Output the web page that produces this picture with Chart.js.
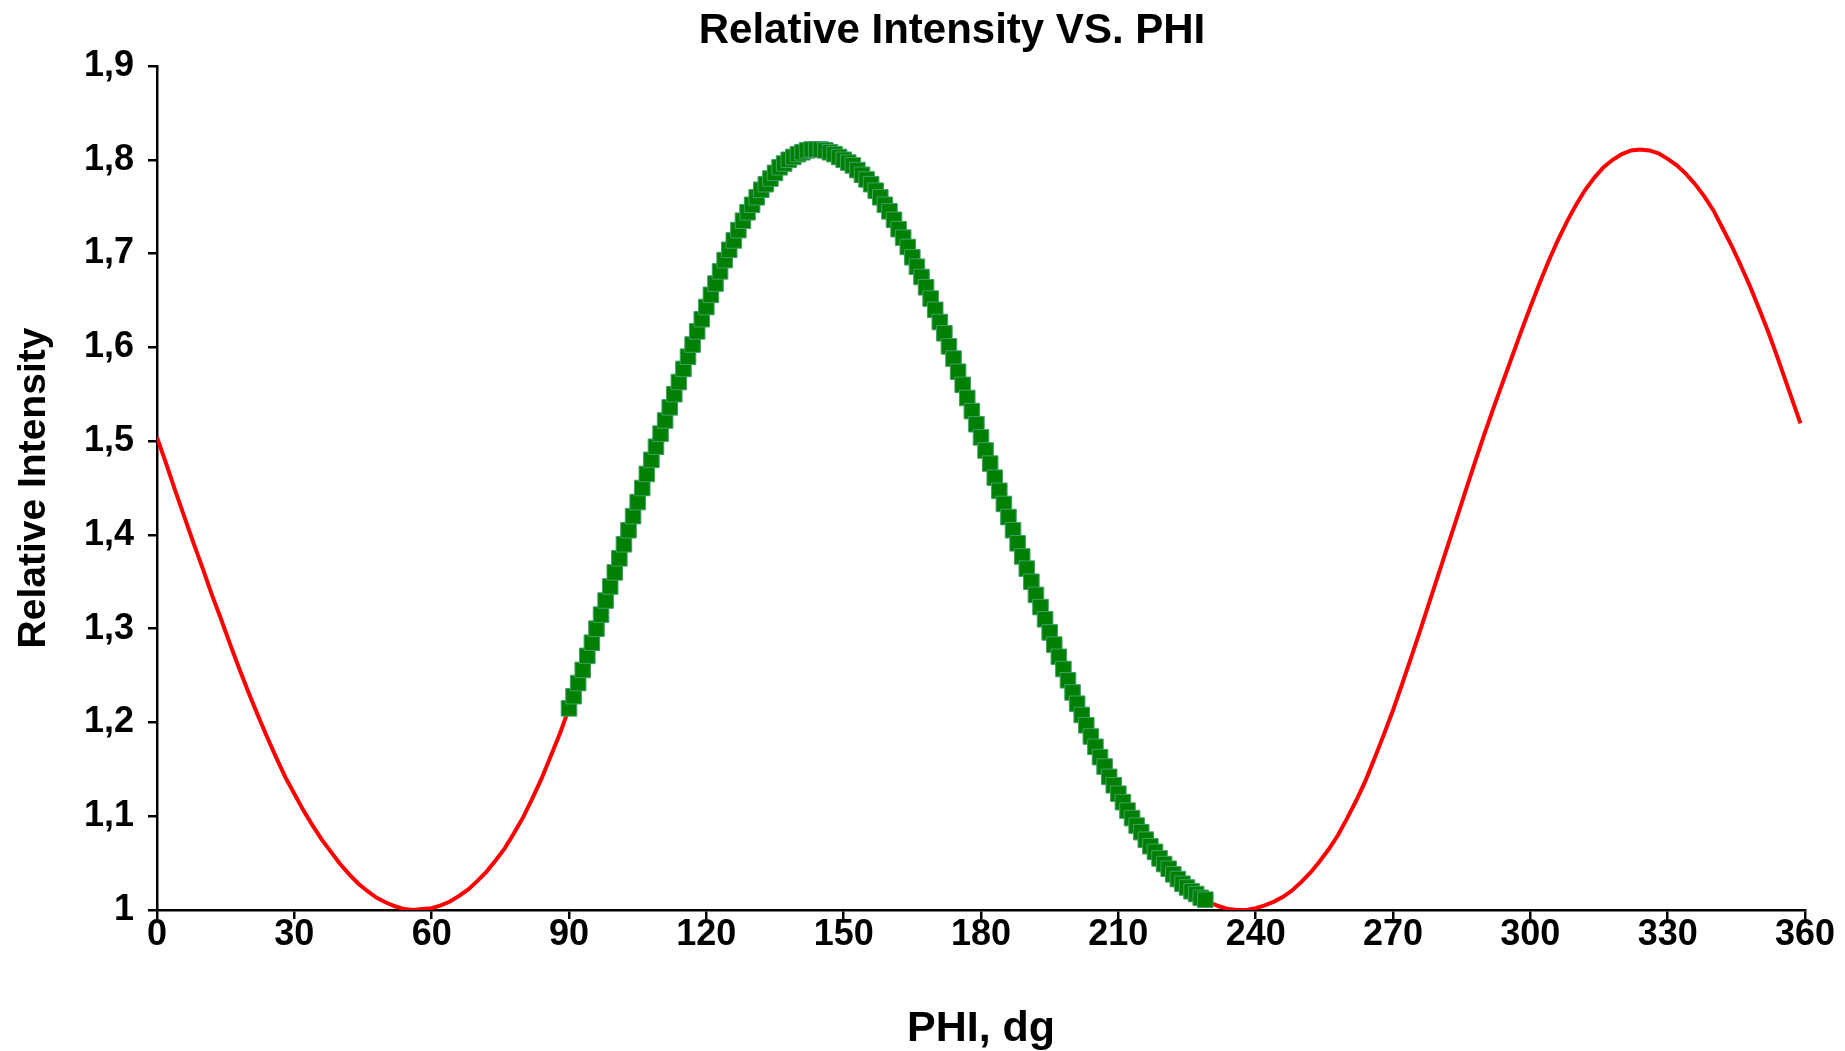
<!DOCTYPE html>
<html>
<head>
<meta charset="utf-8">
<title>Relative Intensity VS. PHI</title>
<script src="https://cdn.jsdelivr.net/npm/chart.js@4.4.1/dist/chart.umd.min.js"></script>
<style>
  html, body { margin: 0; padding: 0; background: #fff; }
  #wrap { width: 1845px; height: 1051px; }
</style>
</head>
<body>
<div id="wrap"><canvas id="phi_chart" width="1845" height="1051"></canvas></div>
<script>
// values
const chartTitle = "Relative Intensity VS. PHI";
const xTitle = "PHI, dg";
const yTitle = "Relative Intensity";

const xTicks = [0, 30, 60, 90, 120, 150, 180, 210, 240, 270, 300, 330, 360];
const yTicks = [1, 1.1, 1.2, 1.3, 1.4, 1.5, 1.6, 1.7, 1.8, 1.9];

// red line, every 2 dg
const phiRed = [
  0, 2, 4, 6, 8, 10, 12, 14, 16, 18, 20, 22, 24, 26, 28, 30, 32, 34, 36, 38,
  40, 42, 44, 46, 48, 50, 52, 54, 56, 58, 60, 62, 64, 66, 68, 70, 72, 74, 76, 78,
  80, 82, 84, 86, 88, 90, 92, 94, 96, 98, 100, 102, 104, 106, 108, 110, 112, 114, 116, 118,
  120, 122, 124, 126, 128, 130, 132, 134, 136, 138, 140, 142, 144, 146, 148, 150, 152, 154, 156, 158,
  160, 162, 164, 166, 168, 170, 172, 174, 176, 178, 180, 182, 184, 186, 188, 190, 192, 194, 196, 198,
  200, 202, 204, 206, 208, 210, 212, 214, 216, 218, 220, 222, 224, 226, 228, 230, 232, 234, 236, 238,
  240, 242, 244, 246, 248, 250, 252, 254, 256, 258, 260, 262, 264, 266, 268, 270, 272, 274, 276, 278,
  280, 282, 284, 286, 288, 290, 292, 294, 296, 298, 300, 302, 304, 306, 308, 310, 312, 314, 316, 318,
  320, 322, 324, 326, 328, 330, 332, 334, 336, 338, 340, 342, 344, 346, 348, 350, 352, 354, 356, 358,
  359
];
const intensityRed = [
  1.504, 1.476, 1.447, 1.419, 1.391, 1.364, 1.336, 1.310, 1.283, 1.257,
  1.232, 1.208, 1.185, 1.163, 1.142, 1.124, 1.106, 1.090, 1.075, 1.062,
  1.049, 1.038, 1.028, 1.020, 1.013, 1.008, 1.004, 1.001, 1.000, 1.001,
  1.002, 1.005, 1.009, 1.015, 1.022, 1.031, 1.041, 1.053, 1.066, 1.082,
  1.099, 1.119, 1.140, 1.164, 1.188, 1.215, 1.242, 1.271, 1.300, 1.330,
  1.360, 1.390, 1.420, 1.450, 1.480, 1.508, 1.536, 1.563, 1.590, 1.617,
  1.643, 1.668, 1.693, 1.714, 1.735, 1.752, 1.768, 1.780, 1.792, 1.800,
  1.806, 1.810, 1.811, 1.810, 1.806, 1.800, 1.794, 1.784, 1.774, 1.760,
  1.745, 1.726, 1.707, 1.686, 1.664, 1.640, 1.615, 1.588, 1.560, 1.532,
  1.505, 1.477, 1.448, 1.420, 1.392, 1.364, 1.337, 1.310, 1.284, 1.258,
  1.233, 1.209, 1.186, 1.164, 1.143, 1.124, 1.106, 1.090, 1.076, 1.063,
  1.050, 1.039, 1.029, 1.020, 1.013, 1.008, 1.004, 1.001, 1.000, 1.000,
  1.002, 1.005, 1.009, 1.014, 1.021, 1.030, 1.040, 1.052, 1.065, 1.080,
  1.098, 1.117, 1.138, 1.162, 1.187, 1.213, 1.241, 1.270, 1.299, 1.329,
  1.359, 1.389, 1.419, 1.449, 1.479, 1.508, 1.536, 1.563, 1.590, 1.617,
  1.643, 1.668, 1.692, 1.714, 1.734, 1.752, 1.768, 1.781, 1.792, 1.800,
  1.806, 1.810, 1.811, 1.810, 1.807, 1.801, 1.794, 1.785, 1.774, 1.761,
  1.746, 1.727, 1.708, 1.687, 1.665, 1.641, 1.616, 1.589, 1.561, 1.533,
  1.519
];

// green squares, every 1 dg from 90 to 229
const phiGreen = [
  90, 91, 92, 93, 94, 95, 96, 97, 98, 99,
  100, 101, 102, 103, 104, 105, 106, 107, 108, 109,
  110, 111, 112, 113, 114, 115, 116, 117, 118, 119,
  120, 121, 122, 123, 124, 125, 126, 127, 128, 129,
  130, 131, 132, 133, 134, 135, 136, 137, 138, 139,
  140, 141, 142, 143, 144, 145, 146, 147, 148, 149,
  150, 151, 152, 153, 154, 155, 156, 157, 158, 159,
  160, 161, 162, 163, 164, 165, 166, 167, 168, 169,
  170, 171, 172, 173, 174, 175, 176, 177, 178, 179,
  180, 181, 182, 183, 184, 185, 186, 187, 188, 189,
  190, 191, 192, 193, 194, 195, 196, 197, 198, 199,
  200, 201, 202, 203, 204, 205, 206, 207, 208, 209,
  210, 211, 212, 213, 214, 215, 216, 217, 218, 219,
  220, 221, 222, 223, 224, 225, 226, 227, 228, 229
];
const intensityGreen = [
  1.215, 1.228, 1.242, 1.256, 1.271, 1.285, 1.300, 1.315, 1.330, 1.345,
  1.360, 1.375, 1.390, 1.405, 1.420, 1.435, 1.450, 1.465, 1.480, 1.494,
  1.508, 1.522, 1.536, 1.550, 1.563, 1.577, 1.590, 1.603, 1.617, 1.630,
  1.643, 1.656, 1.668, 1.681, 1.693, 1.704, 1.714, 1.725, 1.735, 1.744,
  1.752, 1.760, 1.768, 1.774, 1.780, 1.786, 1.792, 1.796, 1.800, 1.803,
  1.806, 1.808, 1.810, 1.811, 1.811, 1.811, 1.810, 1.808, 1.806, 1.803,
  1.800, 1.797, 1.794, 1.789, 1.784, 1.779, 1.774, 1.767, 1.760, 1.752,
  1.745, 1.736, 1.726, 1.717, 1.707, 1.696, 1.686, 1.675, 1.664, 1.652,
  1.640, 1.627, 1.615, 1.601, 1.588, 1.574, 1.560, 1.546, 1.532, 1.518,
  1.504, 1.490, 1.476, 1.461, 1.447, 1.433, 1.419, 1.405, 1.391, 1.377,
  1.364, 1.350, 1.336, 1.323, 1.310, 1.296, 1.283, 1.270, 1.257, 1.245,
  1.232, 1.220, 1.208, 1.197, 1.185, 1.174, 1.163, 1.153, 1.142, 1.133,
  1.124, 1.115, 1.106, 1.098, 1.090, 1.083, 1.075, 1.068, 1.062, 1.055,
  1.049, 1.044, 1.038, 1.033, 1.028, 1.024, 1.020, 1.017, 1.013, 1.011
];

const fontFamily = "'Liberation Sans', Arial, Helvetica, sans-serif";

const toPoints = (xs, ys) => xs.map((x, i) => ({ x: x, y: ys[i] }));

// title sits a bit right of the canvas centre in the reference, so draw it by hand
const titlePlugin = {
  id: "handTitle",
  afterDraw(chart) {
    const c = chart.ctx;
    c.save();
    c.font = "bold 42px " + fontFamily;
    c.fillStyle = "#000";
    c.textAlign = "center";
    c.textBaseline = "middle";
    c.fillText(chartTitle, 952, 31);
    c.restore();
  }
};

const ctx = document.getElementById("phi_chart").getContext("2d");

new Chart(ctx, {
  type: "scatter",
  data: {
    datasets: [{
      label: "selected",
      data: toPoints(phiGreen, intensityGreen),
      showLine: false,
      pointStyle: "rect",
      pointRadius: 11,
      pointHoverRadius: 11,
      backgroundColor: "#008000",
      borderColor: "#3f9f68",
      borderWidth: 1
    }, {
      label: "intensity",
      data: toPoints(phiRed, intensityRed),
      showLine: true,
      fill: false,
      borderColor: "#ff0000",
      backgroundColor: "#ff0000",
      borderWidth: 4,
      pointRadius: 0,
      tension: 0
    }]
  },
  options: {
    responsive: false,
    animation: false,
    devicePixelRatio: 1,
    layout: { padding: { left: 0, right: 40, top: 66, bottom: 0 } },
    plugins: {
      legend: { display: false },
      title: { display: false },
      tooltip: { enabled: false }
    },
    scales: {
      x: {
        type: "linear",
        min: 0,
        max: 360,
        afterBuildTicks: (scale) => { scale.ticks = xTicks.map(v => ({ value: v })); },
        afterFit: (scale) => { scale.height = 141; },
        grid: { display: true, drawOnChartArea: false, drawTicks: true, tickLength: 9, color: "#000", lineWidth: 2.5 },
        border: { display: true, color: "#000", width: 2.5 },
        ticks: {
          color: "#000",
          padding: -2,
          maxRotation: 0,
          autoSkip: false,
          font: { family: fontFamily, size: 36, weight: "bold", lineHeight: 1.0 }
        },
        title: {
          display: true,
          text: xTitle,
          color: "#000",
          padding: { top: 0, bottom: 0 },
          font: { family: fontFamily, size: 43, weight: "bold", lineHeight: 1.0 }
        }
      },
      y: {
        type: "linear",
        min: 1,
        max: 1.9,
        afterBuildTicks: (scale) => { scale.ticks = yTicks.map(v => ({ value: v })); },
        afterFit: (scale) => { scale.width = 157; },
        grid: { display: true, drawOnChartArea: false, drawTicks: true, tickLength: 9, color: "#000", lineWidth: 2.5 },
        border: { display: true, color: "#000", width: 2.5 },
        ticks: {
          color: "#000",
          padding: 14,
          autoSkip: false,
          font: { family: fontFamily, size: 36, weight: "bold" },
          callback: (v) => (Math.round(v * 10) / 10).toString().replace(".", ",")
        },
        title: {
          display: true,
          text: yTitle,
          color: "#000",
          padding: { top: 15, bottom: 0 },
          font: { family: fontFamily, size: 39, weight: "bold", lineHeight: 1.0 }
        }
      }
    }
  },
  plugins: [titlePlugin]
});
</script>
</body>
</html>
